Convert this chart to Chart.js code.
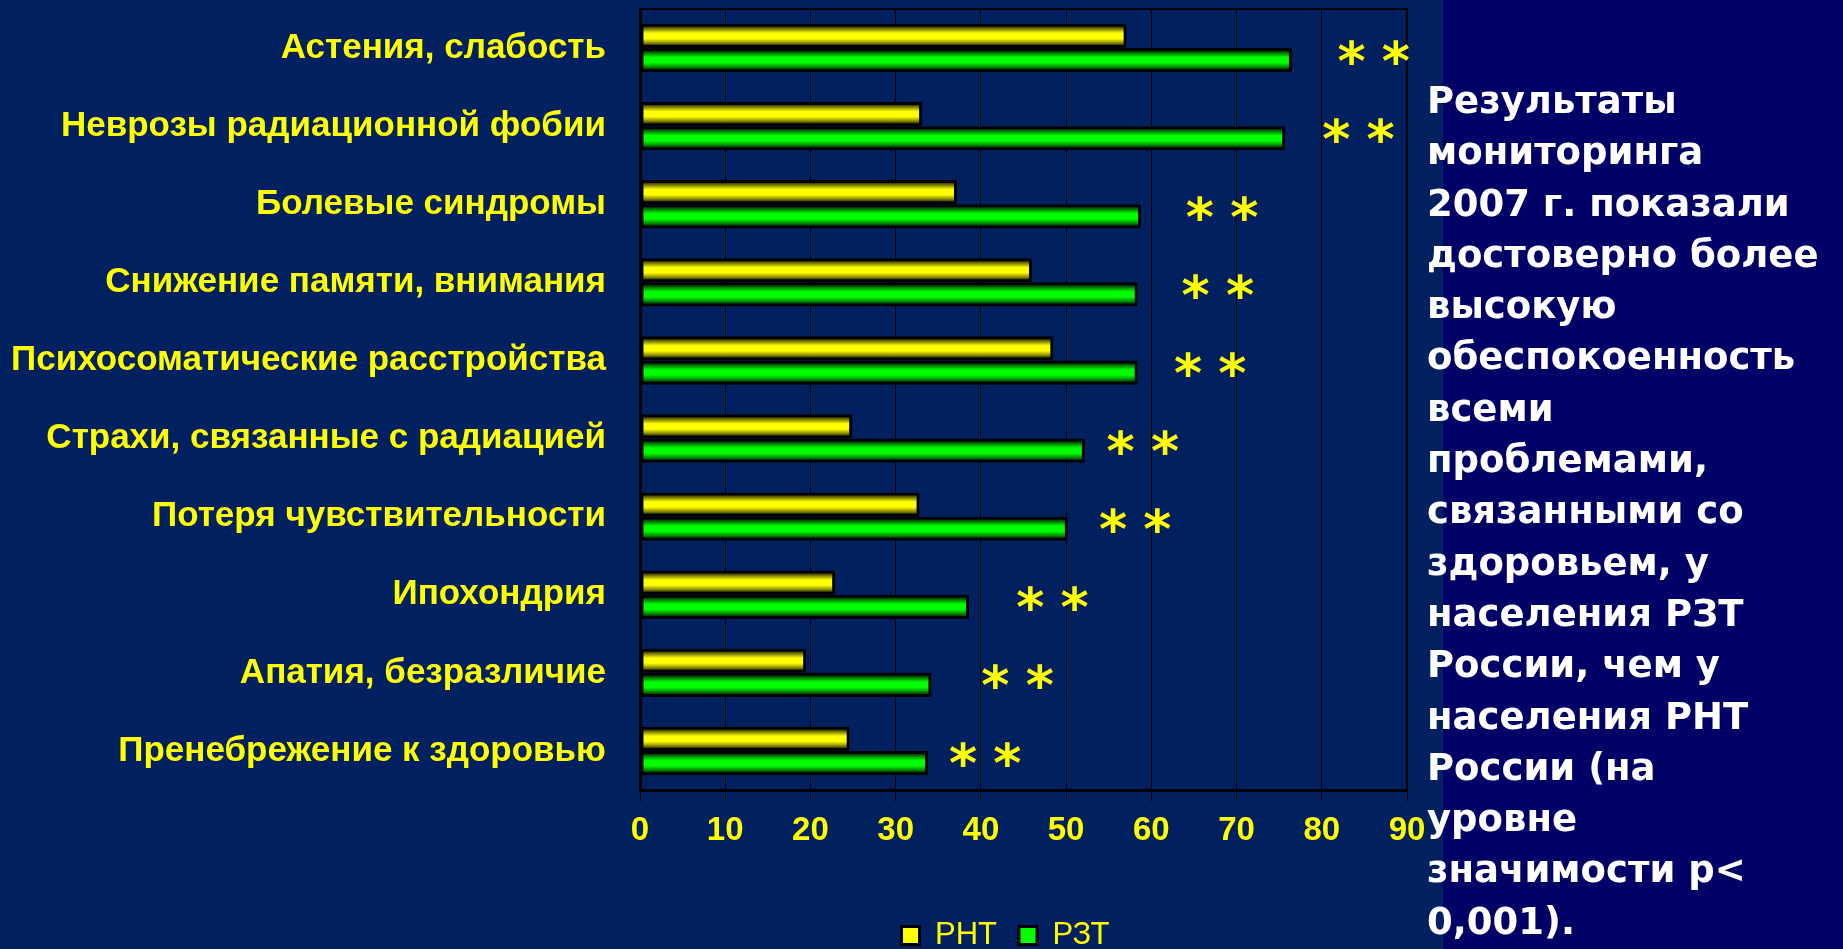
<!DOCTYPE html>
<html>
<head>
<meta charset="utf-8">
<script src="https://cdn.jsdelivr.net/npm/chart.js@4.4.1/dist/chart.umd.min.js"></script>
<style>
  html, body { margin:0; padding:0; width:1843px; height:949px; overflow:hidden; background:#000066; }
  #left { position:absolute; left:0; top:0; width:1443px; height:949px; background:#002060; }
  #right { position:absolute; left:1443px; top:0; width:400px; height:949px; background:#000066; }
  #note { position:absolute; left:1427px; top:75px; font:bold 37px/51.3px "DejaVu Sans", Verdana, sans-serif; color:#ffffff; white-space:pre; }
</style>
</head>
<body>
<div id="left"><canvas id="chart"></canvas></div>
<div id="right"></div>
<div id="note">Результаты
мониторинга
2007 г. показали
достоверно более
высокую
обеспокоенность
всеми
проблемами,
связанными со
здоровьем, у
населения РЗТ
России, чем у
населения РНТ
России (на
уровне
значимости р&lt;
0,001).</div>
<script>
// ---- data ----
const categories = [
  'Астения, слабость',
  'Неврозы радиационной фобии',
  'Болевые синдромы',
  'Снижение памяти, внимания',
  'Психосоматические расстройства',
  'Страхи, связанные с радиацией',
  'Потеря чувствительности',
  'Ипохондрия',
  'Апатия, безразличие',
  'Пренебрежение к здоровью'
];
const seriesNames = ['РНТ', 'РЗТ'];
const rntValues = [57.1, 33.1, 37.2, 46.0, 48.5, 24.9, 32.8, 22.9, 19.5, 24.6];
const rztValues = [76.5, 75.7, 58.8, 58.4, 58.4, 52.2, 50.2, 38.6, 34.2, 33.8];
const starValues = [83.5, 81.7, 65.7, 65.2, 64.3, 56.4, 55.5, 45.8, 41.7, 37.9];
const starLabel = '*';
const xTicks = [0, 10, 20, 30, 40, 50, 60, 70, 80, 90];

// ---- styles ----
const FONT = "'Liberation Sans', Arial, sans-serif";
const yellowStops = [[0, '#3a3a00'], [0.14, '#8a8a00'], [0.35, '#ffff00'], [0.64, '#ffff00'], [0.88, '#8a8a00'], [1, '#3a3a00']];
const greenStops  = [[0, '#003a00'], [0.14, '#008a00'], [0.35, '#00ff00'], [0.64, '#00ff00'], [0.88, '#008a00'], [1, '#003a00']];

const gradientBars = {
  id: 'gradientBars',
  afterLayout(chart) {
    if (chart.legend) { chart.legend.left -= 18; chart.legend.right -= 18; }
  },
  beforeDatasetsDraw(chart) {
    const ctx = chart.ctx;
    chart.data.datasets.forEach((ds, di) => {
      const meta = chart.getDatasetMeta(di);
      const stops = di === 0 ? yellowStops : greenStops;
      meta.data.forEach(el => {
        const top = el.y - el.height / 2 + 3, bot = el.y + el.height / 2 - 3;
        const g = ctx.createLinearGradient(0, top, 0, bot);
        stops.forEach(([o, c]) => g.addColorStop(o, c));
        el.options = Object.assign({}, el.options, { backgroundColor: g });
      });
    });
  }
};

const frameAndStars = {
  id: 'frameAndStars',
  afterDatasetsDraw(chart) {
    const { ctx, chartArea: ca, scales: { x, y } } = chart;
    ctx.save();
    ctx.strokeStyle = '#000';
    ctx.lineWidth = 2;
    ctx.beginPath();
    ctx.moveTo(ca.left, ca.top);
    ctx.lineTo(ca.right, ca.top);
    ctx.lineTo(ca.right, ca.bottom);
    ctx.stroke();

    ctx.fillStyle = '#ffff00';
    ctx.textAlign = 'center';
    ctx.textBaseline = 'alphabetic';
    ctx.font = "bold 60px 'DejaVu Sans'";
    const m = ctx.measureText(starLabel);
    const h = m.actualBoundingBoxAscent + m.actualBoundingBoxDescent;
    const size = 60 * 26 / h;
    ctx.font = "bold " + size + "px 'DejaVu Sans'";
    const m2 = ctx.measureText(starLabel);
    const mid = (m2.actualBoundingBoxAscent - m2.actualBoundingBoxDescent) / 2;
    const gap = x.getPixelForValue(5.2) - x.getPixelForValue(0);
    starValues.forEach((v, i) => {
      const cy = y.getPixelForValue(i) + 4 + mid;
      const cx = x.getPixelForValue(v);
      ctx.fillText(starLabel, cx, cy);
      ctx.fillText(starLabel, cx + gap, cy);
    });
    ctx.restore();
  }
};

new Chart(document.getElementById('chart'), {
  type: 'bar',
  data: {
    labels: categories,
    datasets: [
      { label: seriesNames[0], data: rntValues, backgroundColor: '#ffff00', borderColor: '#000000', borderWidth: 3, borderSkipped: false },
      { label: seriesNames[1], data: rztValues, backgroundColor: '#00ff00', borderColor: '#000000', borderWidth: 3, borderSkipped: false }
    ]
  },
  options: {
    indexAxis: 'y',
    responsive: true,
    maintainAspectRatio: false,
    animation: false,
    layout: { padding: { left: 0, right: 36, top: 9, bottom: -12 } },
    datasets: { bar: { categoryPercentage: 0.62, barPercentage: 1.0 } },
    scales: {
      x: {
        min: 0, max: 90,
        afterBuildTicks(s) { s.ticks = xTicks.map(v => ({ value: v })); },
        ticks: { color: '#ffff00', font: { family: FONT, size: 33, weight: 'bold' }, padding: 10, maxRotation: 0, autoSkip: false },
        grid: { color: '#000000', lineWidth: 1, drawTicks: true, tickLength: 11, tickColor: '#000000', tickWidth: 1 },
        border: { color: '#000000', width: 3 },
        afterFit(s) { s.height = 108; s.paddingLeft = 0; s.paddingRight = 0; }
      },
      y: {
        ticks: { color: '#ffff00', font: { family: FONT, size: 35, weight: 'bold' }, padding: 34, autoSkip: false },
        grid: { display: false, drawTicks: false },
        border: { color: '#000000', width: 3 },
        afterFit(s) { s.width = 640; s.paddingTop = 0; s.paddingBottom = 0; }
      }
    },
    plugins: {
      legend: {
        position: 'bottom',
        fullSize: false,
        labels: { color: '#ffff00', font: { family: FONT, size: 31 }, boxWidth: 18, boxHeight: 18, padding: 22 }
      },
      tooltip: { enabled: false }
    }
  },
  plugins: [gradientBars, frameAndStars]
});
</script>
</body>
</html>
